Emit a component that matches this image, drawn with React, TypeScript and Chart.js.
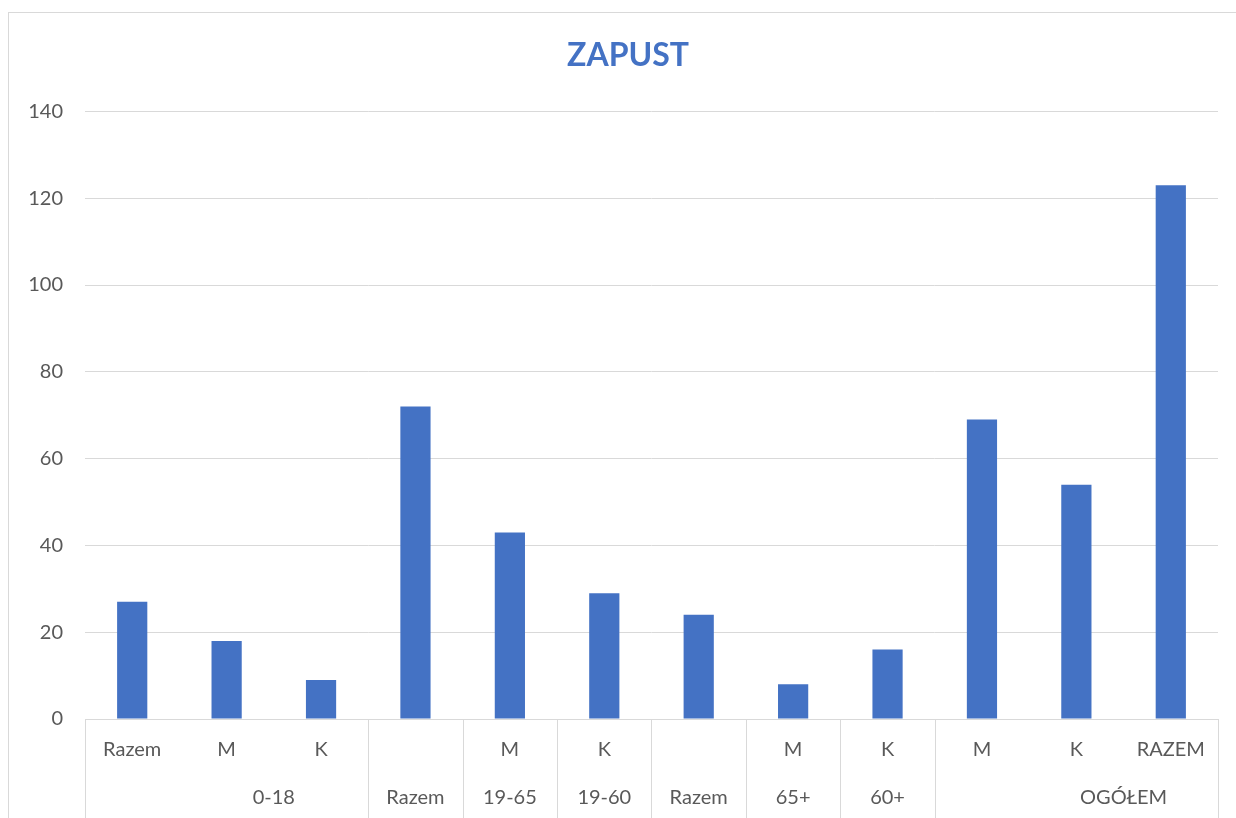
import React, { useEffect, useRef } from "react";
import { Chart, registerables } from "chart.js";

Chart.register(...registerables);

const TITLE = "ZAPUST";
const categories = ["Razem", "M", "K", "", "M", "K", "", "M", "K", "M", "K", "RAZEM"];
const values = [27, 18, 9, 72, 43, 29, 24, 8, 16, 69, 54, 123];
const groupLabels = ["0-18", "Razem", "19-65", "19-60", "Razem", "65+", "60+", "OGÓŁEM"];
const groupSizes = [3, 1, 1, 1, 1, 1, 1, 3];
const yTicks = [0, 20, 40, 60, 80, 100, 120, 140];

const FONT = "Lato, 'Open Sans', sans-serif";
const TEXT = "#595959";
const GRID = "#d9d9d9";
const BAR = "#4472C4";

const groupAxisPlugin = {
  id: "groupAxis",
  afterDraw(chart: any) {
    const { ctx, chartArea, scales } = chart;
    const x = scales.x;
    const bottom = chart.height;
    const axisY = chartArea.bottom;
    const step = x.getPixelForValue(1) - x.getPixelForValue(0);
    ctx.save();
    ctx.strokeStyle = GRID;
    ctx.lineWidth = 1;
    const edges: number[] = [x.getPixelForValue(0) - step / 2];
    let s = 0;
    groupSizes.forEach((n) => {
      s += n;
      edges.push(x.getPixelForValue(s) - step / 2);
    });
    edges.forEach((px) => {
      const p = Math.round(px) + 0.5;
      ctx.beginPath();
      ctx.moveTo(p, axisY);
      ctx.lineTo(p, bottom);
      ctx.stroke();
    });
    ctx.fillStyle = TEXT;
    ctx.font = `20px ${FONT}`;
    ctx.textAlign = "center";
    ctx.textBaseline = "middle";
    let start = 0;
    groupLabels.forEach((lab, i) => {
      const n = groupSizes[i];
      const pos = n > 1 ? start + n / 2 : start;
      const px = x.getPixelForValue(0) + pos * step;
      ctx.fillText(lab, px, axisY + 79);
      start += n;
    });
    ctx.restore();
  },
};

export default function App() {
  const ref = useRef<HTMLCanvasElement | null>(null);
  useEffect(() => {
    document.documentElement.style.overflow = "hidden";
    if (!ref.current) return;
    const chart = new Chart(ref.current, {
      type: "bar",
      data: {
        labels: categories,
        datasets: [
          {
            data: values,
            backgroundColor: BAR,
            barPercentage: 0.32,
            categoryPercentage: 1,
          },
        ],
      },
      plugins: [groupAxisPlugin],
      options: {
        animation: false,
        responsive: false,
        maintainAspectRatio: false,
        layout: { padding: 0 },
        plugins: {
          legend: { display: false },
          tooltip: { enabled: false },
          title: {
            display: true,
            text: TITLE,
            color: BAR,
            font: { family: FONT, size: 32, weight: "bold" },
            padding: { top: 23, bottom: 37 },
          },
        },
        scales: {
          x: {
            grid: { display: false, drawTicks: false },
            border: { display: true, color: GRID, width: 1 },
            ticks: {
              color: TEXT,
              font: { family: FONT, size: 20 },
              padding: 19,
              maxRotation: 0,
              autoSkip: false,
            },
            afterFit: (scale: any) => {
              scale.height = 112;
            },
          },
          y: {
            min: 0,
            max: 140,
            afterBuildTicks: (scale: any) => {
              scale.ticks = yTicks.map((v) => ({ value: v }));
            },
            grid: { color: GRID, lineWidth: 1, drawTicks: false },
            border: { display: false },
            ticks: {
              color: TEXT,
              font: { family: FONT, size: 20 },
              padding: 22,
            },
            afterFit: (scale: any) => {
              scale.width = 76;
            },
          },
          yRight: {
            position: "right",
            min: 0,
            max: 140,
            grid: { display: false, drawTicks: false },
            border: { display: false },
            ticks: { display: false },
            afterFit: (scale: any) => {
              scale.width = 29;
            },
          },
        },
      },
    });
    return () => chart.destroy();
  }, []);
  return (
    <div
      style={{
        position: "fixed",
        left: 8,
        top: 12,
        width: 1240,
        height: 820,
        border: "1px solid #d9d9d9",
        boxSizing: "border-box",
        background: "#fff",
      }}
    >
      <canvas ref={ref} width={1238} height={818} style={{ display: "block" }} />
    </div>
  );
}
